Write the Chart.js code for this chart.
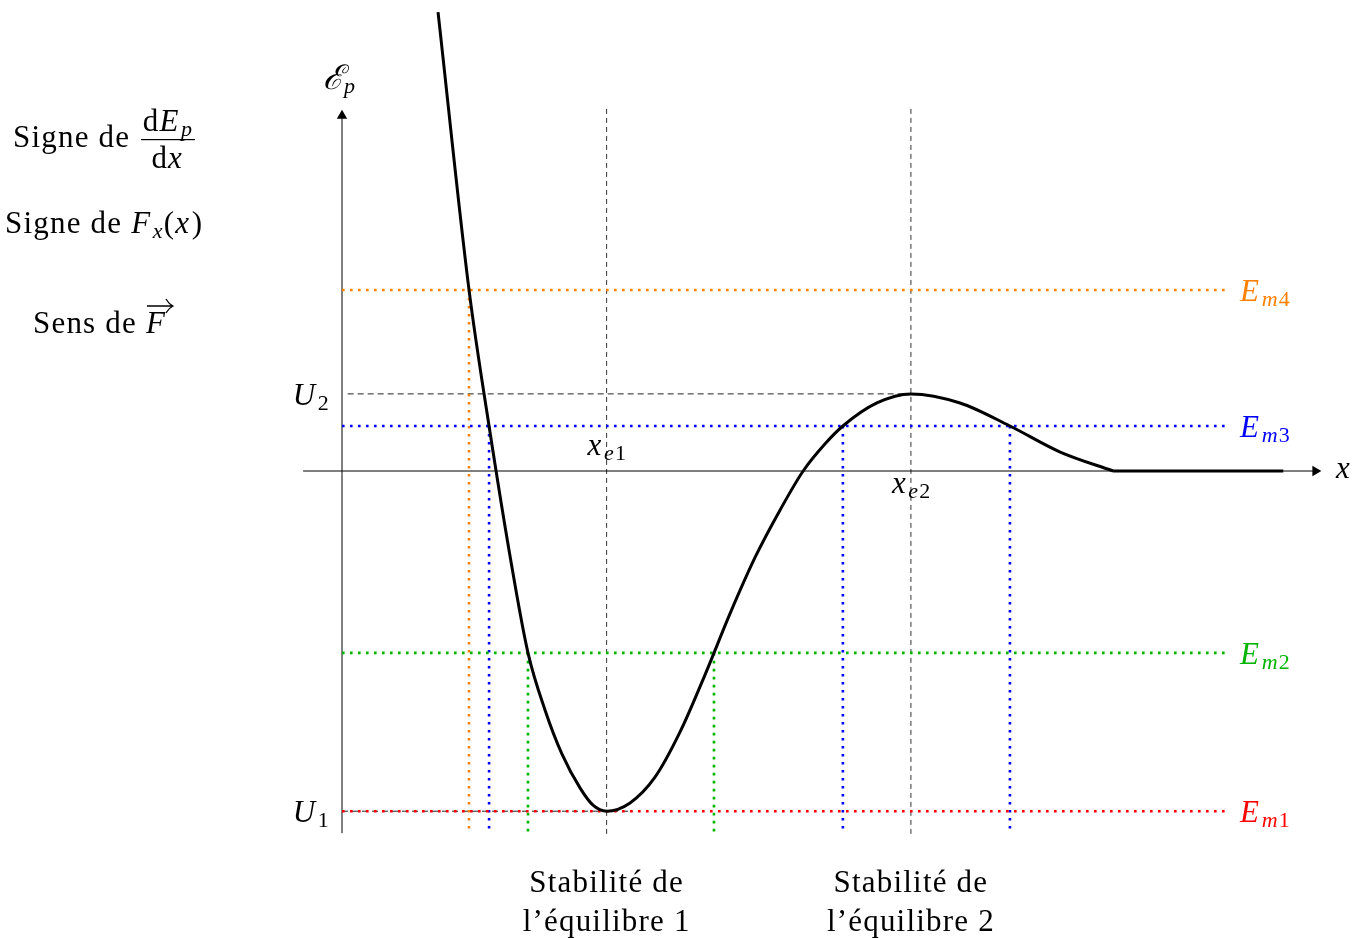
<!DOCTYPE html>
<html>
<head>
<meta charset="utf-8">
<script src="https://cdn.jsdelivr.net/npm/chart.js@4.4.0/dist/chart.umd.min.js"></script>
<style>
	html, body { margin: 0; padding: 0; background: #fff; }
</style>
</head>
<body>
<canvas id="chartEp" width="1354" height="938"></canvas>
<script>
// potential energy curve Ep(x), diagram units
var curveX = [2.54, 3.36, 3.89, 4.44, 4.92, 5.37, 5.82, 6.30, 6.64, 7.00, 7.62, 8.28, 8.94, 9.60, 10.27, 10.93, 11.59, 12.20, 12.78, 13.25, 14.15, 15.05, 16.35, 17.67, 19.00, 20.40];
var curveY = [12.14, 4.79, 1.19, -2.22, -4.81, -6.32, -7.49, -8.39, -8.84, -9.00, -8.78, -8.10, -6.91, -5.40, -3.76, -2.28, -1.03, 0, 0.72, 1.19, 1.80, 2.04, 1.80, 1.19, 0.50, 0];
// flat part beyond the barrier
var flatX = [20.40, 24.90];
var flatY = [0, 0];

// mechanical energy levels and where they meet the curve
var levelNames = ['1', '2', '3', '4'];
var levelValues = [-9.00, -4.81, 1.19, 4.79];
var levelColors = ['#ff0000', '#00b400', '#0000ff', '#ff8000'];
var turningX = [[], [4.92, 9.84], [3.89, 13.25, 17.67], [3.36]];

// equilibria
var eqNames = ['1', '2'];
var eqX = [7.00, 15.05];
var eqU = [-9.00, 2.04];

// axes extent
var xAxisRange = [-1.03, 25.75];
var yAxisRange = [-9.58, 9.40];
var levelEnd = 23.4;
var guideTop = 9.6;

var FONT = "'Liberation Serif', 'DejaVu Serif', serif";
var BASE = 31, SUB = 22;

function seg(xs, ys, style) {
	let ds = {
		data: xs.map((x, i) => ({x: x, y: ys[i]})),
		borderColor: '#000',
		borderWidth: 1,
		pointRadius: 0,
		fill: false,
		tension: 0
	};
	return Object.assign(ds, style);
}

var datasets = [];

// Ep curve
datasets.push(seg(curveX, curveY, {borderWidth: 3, cubicInterpolationMode: 'monotone', order: 0}));
datasets.push(seg(flatX, flatY, {borderWidth: 3, order: 0}));

// energy levels (dotted) and turning-point verticals
levelValues.forEach((v, i) => {
	let dot = {borderColor: levelColors[i], borderWidth: 2.6, borderDash: [2.6, 5.4], order: 1};
	datasets.push(seg([0, levelEnd], [v, v], dot));
	turningX[i].forEach(tx => {
		datasets.push(seg([tx, tx], [v, yAxisRange[0]], dot));
	});
});

// equilibrium guides
eqX.forEach(x => {
	datasets.push(seg([x, x], [-guideTop, guideTop], {borderColor: '#333', borderDash: [5, 4], order: 3}));
});
datasets.push(seg([0.15, eqX[1]], [eqU[1], eqU[1]], {borderColor: '#222', borderDash: [6, 4], order: 3}));
datasets.push(seg([0, eqX[0] + 0.7], [eqU[0], eqU[0]], {borderColor: '#222', borderDash: [6, 4], order: 3}));

// axes with arrow heads
datasets.push(seg(xAxisRange, [0, 0], {
	order: 2,
	pointRadius: [0, 6],
	pointStyle: 'triangle',
	rotation: [0, 90],
	pointBackgroundColor: '#000',
	pointBorderColor: '#000',
	pointBorderWidth: 0
}));
datasets.push(seg([0, 0], yAxisRange, {
	order: 2,
	pointRadius: [0, 6],
	pointStyle: 'triangle',
	pointBackgroundColor: '#000',
	pointBorderColor: '#000',
	pointBorderWidth: 0
}));

// text drawn in math style: parts are [text, style]
// style: r = roman, i = italic, si = italic subscript, sr = roman subscript
function fontOf(style) {
	let size = style[0] === 's' ? SUB : BASE;
	let italic = style.indexOf('i') >= 0 ? 'italic ' : '';
	return italic + size + 'px ' + FONT;
}

function rich(ctx, parts, x, y, align, color) {
	let total = 0;
	ctx.letterSpacing = '1.2px';
	parts.forEach(p => {
		ctx.font = fontOf(p[1]);
		p.w = ctx.measureText(p[0]).width + (p[1] === 'i' ? 1.5 : 0);
		total += p.w;
	});
	let cx = align === 'center' ? x - total / 2 : (align === 'right' ? x - total : x);
	ctx.fillStyle = color || '#000';
	ctx.textAlign = 'left';
	ctx.textBaseline = 'alphabetic';
	let pos = [];
	parts.forEach(p => {
		ctx.font = fontOf(p[1]);
		ctx.fillText(p[0], cx, p[1][0] === 's' ? y + 5 : y);
		pos.push(cx);
		cx += p.w;
	});
	ctx.letterSpacing = '0px';
	return {width: total, pos: pos};
}

var labels = {
	id: 'labels',
	afterDraw(chart) {
		let ctx = chart.ctx;
		let sx = chart.scales.x, sy = chart.scales.y;
		ctx.save();

		// left column
		rich(ctx, [['Signe de', 'r']], 13, 147);
		rich(ctx, [['d', 'r'], ['E', 'i'], ['p', 'si']], 168, 131, 'center');
		ctx.fillRect(141, 139, 54, 1.2);
		rich(ctx, [['d', 'r'], ['x', 'i']], 168, 168, 'center');

		rich(ctx, [['Signe de ', 'r'], ['F', 'i'], ['x', 'si'], ['(', 'r'], ['x', 'i'], [')', 'r']], 5, 233);

		let r = rich(ctx, [['Sens de ', 'r'], ['F', 'i']], 33, 333);
		let fx = r.pos[1];
		ctx.strokeStyle = '#000';
		ctx.lineWidth = 1.3;
		ctx.beginPath();
		ctx.moveTo(fx + 1, 306);
		ctx.lineTo(fx + 27, 306);
		ctx.moveTo(fx + 20, 299);
		ctx.quadraticCurveTo(fx + 23, 304, fx + 27, 306);
		ctx.quadraticCurveTo(fx + 23, 308, fx + 20, 313);
		ctx.stroke();

		// axis names
		let x0 = sx.getPixelForValue(0), y0 = sy.getPixelForValue(0);
		ctx.font = 'italic 34px ' + FONT;
		ctx.fillStyle = '#000';
		ctx.textAlign = 'right';
		ctx.fillText('\u2130', x0 + 2, 89);
		ctx.font = 'italic 22px ' + FONT;
		ctx.textAlign = 'left';
		ctx.fillText('p', x0 + 2, 93);
		rich(ctx, [['x', 'i']], 1336, y0 + 7);

		// U1, U2
		eqU.forEach((u, i) => {
			rich(ctx, [['U', 'i'], [eqNames[i], 'sr']], x0 - 12, sy.getPixelForValue(u) + 11, 'right');
		});

		// equilibrium positions
		rich(ctx, [['x', 'i'], ['e', 'si'], [eqNames[0], 'sr']], sx.getPixelForValue(eqX[0]) - 19, y0 - 16);
		rich(ctx, [['x', 'i'], ['e', 'si'], [eqNames[1], 'sr']], sx.getPixelForValue(eqX[1]) - 19, y0 + 22);

		// energy level names
		levelValues.forEach((v, i) => {
			rich(ctx, [['E', 'i'], ['m', 'si'], [levelNames[i], 'sr']], 1240, sy.getPixelForValue(v) + 11, 'left', levelColors[i]);
		});

		// stability captions
		eqX.forEach((x, i) => {
			let px = sx.getPixelForValue(x);
			rich(ctx, [['Stabilit\u00e9 de', 'r']], px, 892, 'center');
			rich(ctx, [['l\u2019\u00e9quilibre ' + eqNames[i], 'r']], px, 931, 'center');
		});

		ctx.restore();
	}
};

new Chart(document.getElementById('chartEp').getContext('2d'), {
	type: 'line',
	data: {datasets: datasets},
	options: {
		responsive: false,
		animation: false,
		devicePixelRatio: 1,
		layout: {padding: 0, autoPadding: false},
		plugins: {
			legend: {display: false},
			tooltip: {enabled: false}
		},
		scales: {
			x: {type: 'linear', min: -9.048, max: 26.772, display: false},
			y: {type: 'linear', min: -12.354, max: 12.460, display: false}
		}
	},
	plugins: [labels]
});
</script>
</body>
</html>
